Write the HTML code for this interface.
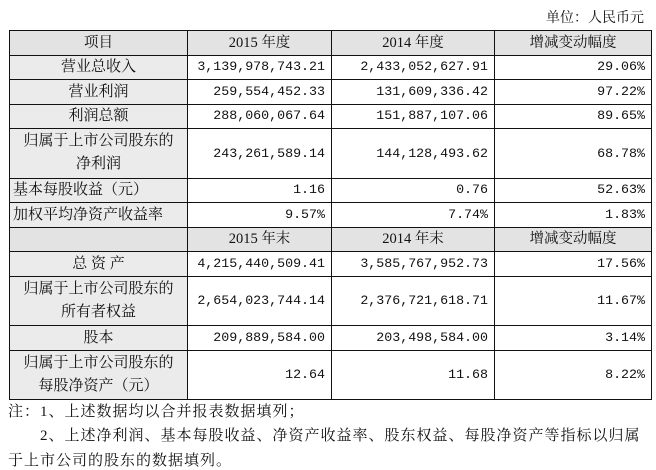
<!DOCTYPE html>
<html><head><meta charset="utf-8"><style>
body{margin:0;width:656px;height:468px;background:#fff;position:relative;font-family:"Liberation Serif","Noto Serif CJK SC",serif;color:#111;overflow:hidden}
.u{position:absolute;right:12px;top:7px;font-size:14px}
table{position:absolute;left:9px;top:30px;border-collapse:collapse;table-layout:fixed;width:642px}
td{border:1.5px solid #111;padding:0;font-size:15px;height:23.5px;line-height:18px;white-space:nowrap;overflow:hidden}
td.l{background:#ebebeb;text-align:center}
td.h{background:#e3e3e3;text-align:center;font-size:14.5px}
td.n{text-align:right;padding-right:6px;font-family:"Liberation Mono","Noto Serif CJK SC",monospace;font-size:13.3px}
tr.t td{height:48.5px;line-height:23px}
.note{position:absolute;left:8px;font-size:15px;letter-spacing:1px;white-space:nowrap}
</style></head><body>
<div class="u">单位：人民币元</div>
<table>
<colgroup><col style="width:178px"><col style="width:144px"><col style="width:163px"><col style="width:157px"></colgroup>
<tr><td class="h">项目</td><td class="h">2015 年度</td><td class="h">2014 年度</td><td class="h">增减变动幅度</td></tr>
<tr><td class="l">营业总收入</td><td class="n">3,139,978,743.21</td><td class="n">2,433,052,627.91</td><td class="n">29.06%</td></tr>
<tr><td class="l">营业利润</td><td class="n">259,554,452.33</td><td class="n">131,609,336.42</td><td class="n">97.22%</td></tr>
<tr><td class="l">利润总额</td><td class="n">288,060,067.64</td><td class="n">151,887,107.06</td><td class="n">89.65%</td></tr>
<tr class="t"><td class="l">归属于上市公司股东的<br>净利润</td><td class="n">243,261,589.14</td><td class="n">144,128,493.62</td><td class="n">68.78%</td></tr>
<tr><td class="l" style="text-align:left;padding-left:3px">基本每股收益（元）</td><td class="n">1.16</td><td class="n">0.76</td><td class="n">52.63%</td></tr>
<tr><td class="l" style="text-align:left;padding-left:3px">加权平均净资产收益率</td><td class="n">9.57%</td><td class="n">7.74%</td><td class="n">1.83%</td></tr>
<tr><td class="h"></td><td class="h">2015 年末</td><td class="h">2014 年末</td><td class="h">增减变动幅度</td></tr>
<tr><td class="l">总 资 产</td><td class="n">4,215,440,509.41</td><td class="n">3,585,767,952.73</td><td class="n">17.56%</td></tr>
<tr class="t"><td class="l">归属于上市公司股东的<br>所有者权益</td><td class="n">2,654,023,744.14</td><td class="n">2,376,721,618.71</td><td class="n">11.67%</td></tr>
<tr><td class="l">股本</td><td class="n">209,889,584.00</td><td class="n">203,498,584.00</td><td class="n">3.14%</td></tr>
<tr class="t"><td class="l">归属于上市公司股东的<br>每股净资产（元）</td><td class="n">12.64</td><td class="n">11.68</td><td class="n">8.22%</td></tr>
</table>
<div class="note" style="top:400px">注：1、上述数据均以合并报表数据填列；</div>
<div class="note" style="top:424px;left:40px">2、上述净利润、基本每股收益、净资产收益率、股东权益、每股净资产等指标以归属</div>
<div class="note" style="top:449px">于上市公司的股东的数据填列。</div>
</body></html>
